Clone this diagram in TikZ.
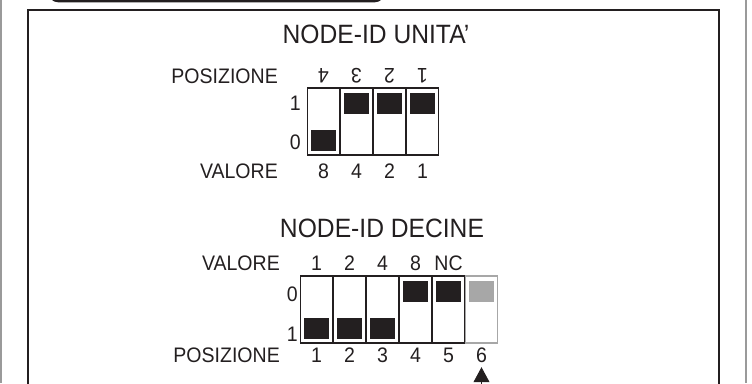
\documentclass[tikz,border=0pt]{standalone}
\usepackage{fontspec}
\setmainfont{Liberation Sans}
\newfontfamily\titlefont[FakeStretch=0.93]{Liberation Sans}
\usetikzlibrary{arrows.meta}
\definecolor{ink}{HTML}{231F20}
\definecolor{pale}{HTML}{A7A7A7}
\definecolor{edge}{HTML}{9A9A9A}

\begin{document}
\begin{tikzpicture}[x=1pt,y=-1pt]
  \tikzset{
    dip cell/.style={draw=ink, line width=1.2pt, minimum width=32pt, minimum height=67pt, inner sep=0pt, outer sep=0pt},
    dip knob/.style={fill=ink, minimum width=25pt, minimum height=21pt, inner sep=0pt, outer sep=0pt},
    caption/.style={font=\titlefont\fontsize{21}{23}\selectfont, text=ink, inner sep=0pt, text height=15pt, text depth=0pt},
    heading/.style={font=\titlefont\fontsize{26.5}{28}\selectfont, text=ink, inner sep=0pt, text height=19pt, text depth=0pt}
  }
  \useasboundingbox (0,0) rectangle (752,383);
  \clip (0,0) rectangle (752,383);

  % frames
  \draw [edge, line width=1.2pt] (1,0) -- (1,383) (746,0) -- (746,383);
  \draw [ink, line width=2pt] (28,400) -- (28,10) -- (719,10) -- (719,400);
  \draw [ink, line width=2.5pt, rounded corners=8pt] (50,-30) rectangle (383,1);

  % unita'
  \node [heading] (title-U) at (376,34) {NODE-ID UNITA’};
  \node [caption, anchor=east] (pos-U) at (278,75.5) {POSIZIONE};
  \node [caption, anchor=east] (val-U) at (278,171) {VALORE};
  \node [caption, anchor=east] (on-U) at (301,103) {1};
  \node [caption, anchor=east] (off-U) at (301,141.5) {0};

  \foreach \i/\pos/\val/\up in {1/4/8/0, 2/3/4/1, 3/2/2/1, 4/1/1/1} {
    \pgfmathsetmacro\cx{323.5+33*(\i-1)}
    \node [dip cell] (cell-U\i) at (\cx,121.5) {};
    \node [caption, rotate=180] (num-U\i) at (\cx,75.5) {\pos};
    \node [caption] (weight-U\i) at (\cx,171) {\val};
    \ifnum\up=1
      \node [dip knob] (knob-U\i) at ([yshift=-15pt]cell-U\i.north) {};
    \else
      \node [dip knob] (knob-U\i) at ([yshift=15pt]cell-U\i.south) {};
    \fi
  }

  % decine
  \node [heading] (title-D) at (382,227.5) {NODE-ID DECINE};
  \node [caption, anchor=east] (val-D) at (280,263) {VALORE};
  \node [caption, anchor=east] (pos-D) at (280,354.5) {POSIZIONE};
  \node [caption, anchor=east] (off-D) at (298,294) {0};
  \node [caption, anchor=east] (on-D) at (298,333.5) {1};

  \foreach \i/\val/\up in {1/1/0, 2/2/0, 3/4/0, 4/8/1, 5/NC/1} {
    \pgfmathsetmacro\cx{316.5+33*(\i-1)}
    \node [dip cell] (cell-D\i) at (\cx,309.5) {};
    \node [caption] (weight-D\i) at (\cx,263) {\val};
    \node [caption] (num-D\i) at (\cx,354.5) {\i};
    \ifnum\up=1
      \node [dip knob] (knob-D\i) at ([yshift=-15pt]cell-D\i.north) {};
    \else
      \node [dip knob] (knob-D\i) at ([yshift=15pt]cell-D\i.south) {};
    \fi
  }

  \node [dip cell, draw=pale] (cell-D6) at (481.5,309.5) {};
  \node [dip knob, fill=pale] (knob-D6) at ([yshift=-15pt]cell-D6.north) {};
  \node [caption] (num-D6) at (481.5,354.5) {6};

  \coordinate (arrow-end) at (481.5,395);
  \draw [ink, line width=0.8pt, -{Triangle[length=15pt,width=16pt]}] (arrow-end) -- ([yshift=-5pt]num-D6.south);
\end{tikzpicture}
\end{document}
